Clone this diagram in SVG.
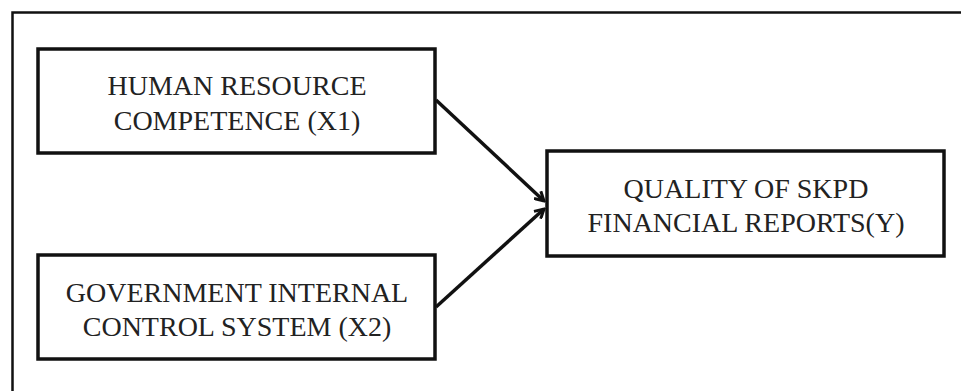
<svg xmlns="http://www.w3.org/2000/svg" width="961" height="391" viewBox="0 0 961 391">
<style>
.box{fill:#fff;stroke:#111;stroke-width:3.5}
.t{font-family:"Liberation Serif","Times New Roman",serif;font-size:28px;fill:#222;text-anchor:middle}
.c{stroke:#111;stroke-width:3.5;fill:none}
</style>
<defs>
<marker id="ah" viewBox="0 0 12 12" refX="10" refY="6" markerWidth="12" markerHeight="12" markerUnits="userSpaceOnUse" orient="auto">
<path d="M1,1 L10,6 L1,11" fill="none" stroke="#111" stroke-width="3"/>
</marker>
</defs>
<rect width="961" height="391" fill="#fff"/>
<path d="M12.5,391 V12.5 H961" fill="none" stroke="#111" stroke-width="2.5"/>
<g id="n1">
<rect class="box" x="38" y="49" width="397" height="104"/>
<text class="t" x="237" y="95">HUMAN RESOURCE</text>
<text class="t" x="237" y="130">COMPETENCE (X1)</text>
</g>
<g id="n2">
<rect class="box" x="38" y="255" width="397" height="104"/>
<text class="t" x="237" y="302">GOVERNMENT INTERNAL</text>
<text class="t" x="237" y="336">CONTROL SYSTEM (X2)</text>
</g>
<g id="n3">
<rect class="box" x="547" y="151" width="397" height="105"/>
<text class="t" x="746" y="198">QUALITY OF SKPD</text>
<text class="t" x="746" y="232">FINANCIAL REPORTS(Y)</text>
</g>
<g id="connectors">
<line class="c" x1="436" y1="100" x2="544" y2="201" marker-end="url(#ah)"/>
<line class="c" x1="436" y1="307" x2="544" y2="209" marker-end="url(#ah)"/>
</g>
</svg>
